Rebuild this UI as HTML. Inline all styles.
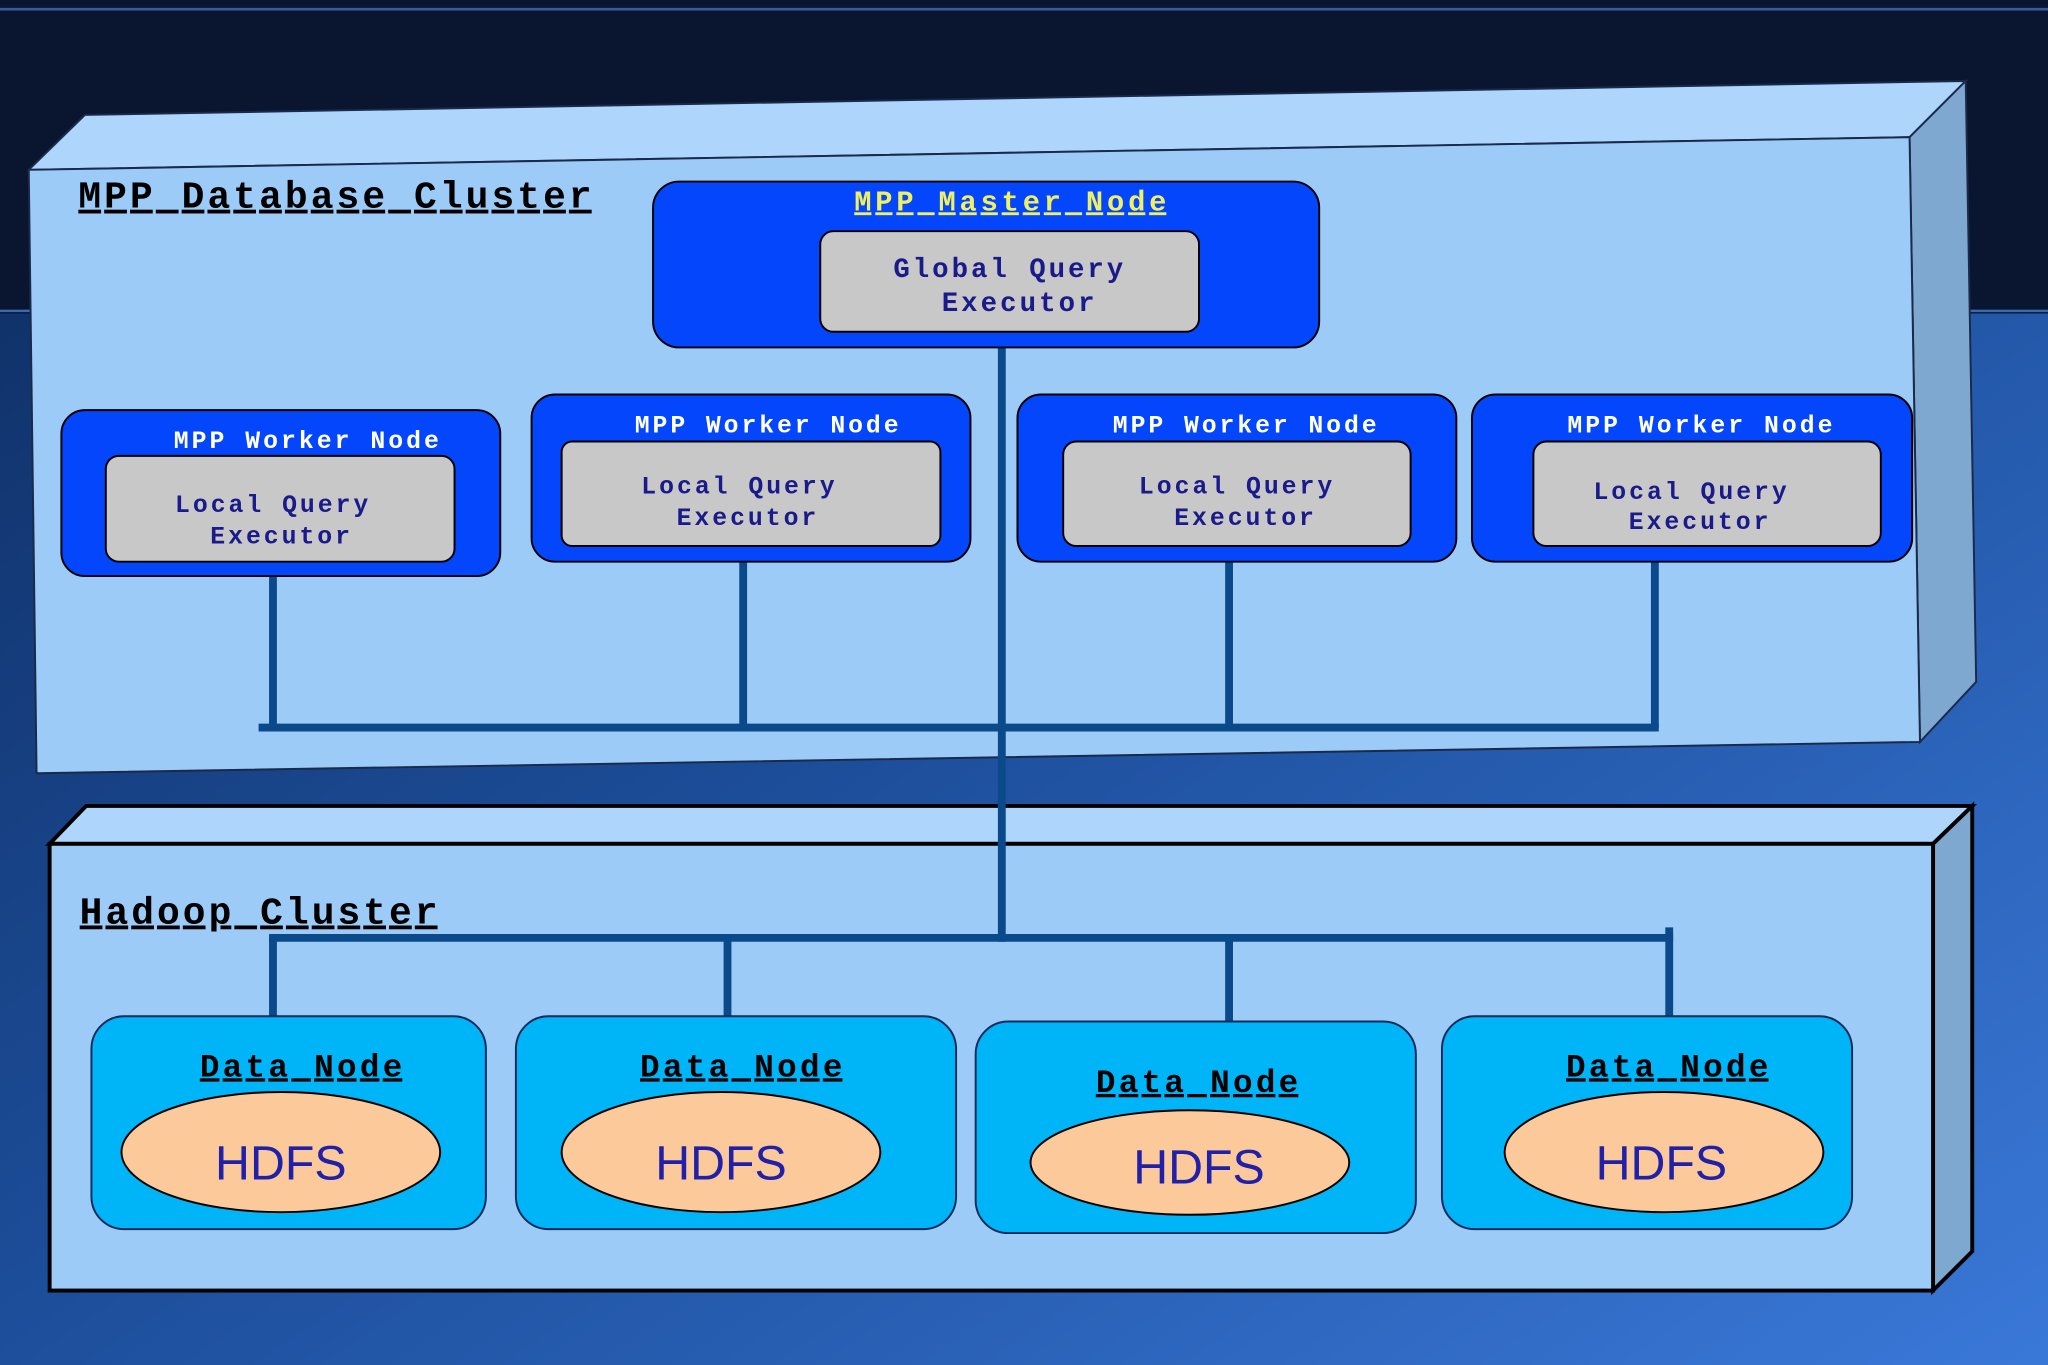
<!DOCTYPE html>
<html><head><meta charset="utf-8"><style>
html,body{margin:0;padding:0;width:2048px;height:1365px;overflow:hidden;background:#0a1630}
svg{display:block}
.m{font-family:"Liberation Mono",monospace;font-weight:bold}
</style></head><body>
<svg width="2048" height="1365" viewBox="0 0 1568 1045" preserveAspectRatio="none">
<defs>
<linearGradient id="bg" x1="0" y1="0" x2="1" y2="1">
<stop offset="0" stop-color="#0d2a5c"/><stop offset="0.5" stop-color="#1d4f9c"/><stop offset="1" stop-color="#3a78d8"/>
</linearGradient>
</defs>
<rect width="1568" height="1045" fill="url(#bg)"/>
<rect width="1568" height="240" fill="#0a1630"/>
<line x1="0" y1="7" x2="1568" y2="7" stroke="#3a5a9a" stroke-width="2"/>
<line x1="0" y1="238" x2="1568" y2="238" stroke="#3a6ab0" stroke-width="2"/>
<polygon points="22,130 65,88 1505,62 1462,105" fill="#aed6fd" stroke="#1a2a4a" stroke-width="1.5"/>
<polygon points="1462,105 1505,62 1513,522 1470,568" fill="#7ea8d0" stroke="#1a2a4a" stroke-width="1.5"/>
<polygon points="22,130 1462,105 1470,568 28,592" fill="#9ccbf8" stroke="#1a2a4a" stroke-width="1.5"/>
<text x="60" y="159" class="m" font-size="29" fill="#000" text-decoration="underline" textLength="393" lengthAdjust="spacing">MPP Database Cluster</text>
<polygon points="38,646 66,617 1510,617 1480,646" fill="#aed6fd" stroke="#000" stroke-width="3"/>
<polygon points="1480,646 1510,617 1510,958 1480,988" fill="#7ea8d0" stroke="#000" stroke-width="3"/>
<rect x="38" y="646" width="1442" height="342" fill="#9ccbf8" stroke="#000" stroke-width="3"/>
<text x="61" y="707" class="m" font-size="29" fill="#000" text-decoration="underline" textLength="274" lengthAdjust="spacing">Hadoop Cluster</text>
<g stroke="#0a4a8a" stroke-width="6" fill="none">
<line x1="767" y1="266" x2="767" y2="721"/>
<line x1="198" y1="557" x2="1270" y2="557"/>
<line x1="209" y1="441" x2="209" y2="557"/>
<line x1="569" y1="430" x2="569" y2="557"/>
<line x1="941" y1="430" x2="941" y2="557"/>
<line x1="1267" y1="430" x2="1267" y2="557"/>
<line x1="206" y1="718" x2="1281" y2="718"/>
<line x1="209" y1="718" x2="209" y2="778"/>
<line x1="557" y1="718" x2="557" y2="778"/>
<line x1="941" y1="718" x2="941" y2="790"/>
<line x1="1278" y1="710" x2="1278" y2="778"/>
</g>
<rect x="500" y="139" width="510" height="127" rx="20" fill="#0446fb" stroke="#000" stroke-width="1.5"/>
<text x="654" y="161" class="m" font-size="22" fill="#f0f060" text-decoration="underline" textLength="239" lengthAdjust="spacing">MPP Master Node</text>
<rect x="628" y="177" width="290" height="77" rx="10" fill="#c8c8c8" stroke="#000" stroke-width="1.5"/>
<text x="684" y="212" class="m" font-size="21" fill="#1a1a8a" textLength="176" lengthAdjust="spacing">Global Query</text>
<text x="721" y="238" class="m" font-size="21" fill="#1a1a8a" textLength="117" lengthAdjust="spacing">Executor</text>
<g>
<rect x="47" y="314" width="336" height="127" rx="18" fill="#0446fb" stroke="#000" stroke-width="1.5"/>
<text x="133" y="343" class="m" font-size="19" fill="#fff" textLength="203" lengthAdjust="spacing">MPP Worker Node</text>
<rect x="81" y="349" width="267" height="81" rx="10" fill="#c8c8c8" stroke="#000" stroke-width="1.5"/>
<text x="134" y="392" class="m" font-size="19" fill="#1a1a8a" textLength="148" lengthAdjust="spacing">Local Query</text>
<text x="161" y="416" class="m" font-size="19" fill="#1a1a8a" textLength="107" lengthAdjust="spacing">Executor</text>

<rect x="407" y="302" width="336" height="128" rx="18" fill="#0446fb" stroke="#000" stroke-width="1.5"/>
<text x="486" y="331" class="m" font-size="19" fill="#fff" textLength="202" lengthAdjust="spacing">MPP Worker Node</text>
<rect x="430" y="338" width="290" height="80" rx="8" fill="#c8c8c8" stroke="#000" stroke-width="1.5"/>
<text x="491" y="378" class="m" font-size="19" fill="#1a1a8a" textLength="148" lengthAdjust="spacing">Local Query</text>
<text x="518" y="402" class="m" font-size="19" fill="#1a1a8a" textLength="107" lengthAdjust="spacing">Executor</text>

<rect x="779" y="302" width="336" height="128" rx="18" fill="#0446fb" stroke="#000" stroke-width="1.5"/>
<text x="852" y="331" class="m" font-size="19" fill="#fff" textLength="202" lengthAdjust="spacing">MPP Worker Node</text>
<rect x="814" y="338" width="266" height="80" rx="10" fill="#c8c8c8" stroke="#000" stroke-width="1.5"/>
<text x="872" y="378" class="m" font-size="19" fill="#1a1a8a" textLength="148" lengthAdjust="spacing">Local Query</text>
<text x="899" y="402" class="m" font-size="19" fill="#1a1a8a" textLength="107" lengthAdjust="spacing">Executor</text>

<rect x="1127" y="302" width="337" height="128" rx="18" fill="#0446fb" stroke="#000" stroke-width="1.5"/>
<text x="1200" y="331" class="m" font-size="19" fill="#fff" textLength="203" lengthAdjust="spacing">MPP Worker Node</text>
<rect x="1174" y="338" width="266" height="80" rx="10" fill="#c8c8c8" stroke="#000" stroke-width="1.5"/>
<text x="1220" y="382" class="m" font-size="19" fill="#1a1a8a" textLength="148" lengthAdjust="spacing">Local Query</text>
<text x="1247" y="405" class="m" font-size="19" fill="#1a1a8a" textLength="107" lengthAdjust="spacing">Executor</text>
</g>
<g font-family="Liberation Sans, sans-serif">
<rect x="70" y="778" width="302" height="163" rx="25" fill="#00b4f8" stroke="#0a2a5a" stroke-width="1.5"/>
<text x="153" y="824" class="m" font-size="25" fill="#000" text-decoration="underline" textLength="155" lengthAdjust="spacing">Data Node</text>
<ellipse cx="215" cy="882" rx="122" ry="46" fill="#fbc99a" stroke="#000" stroke-width="1.5"/>
<text x="215" y="903" font-size="37" fill="#2020a8" text-anchor="middle">HDFS</text>

<rect x="395" y="778" width="337" height="163" rx="25" fill="#00b4f8" stroke="#0a2a5a" stroke-width="1.5"/>
<text x="490" y="824" class="m" font-size="25" fill="#000" text-decoration="underline" textLength="155" lengthAdjust="spacing">Data Node</text>
<ellipse cx="552" cy="882" rx="122" ry="46" fill="#fbc99a" stroke="#000" stroke-width="1.5"/>
<text x="552" y="903" font-size="37" fill="#2020a8" text-anchor="middle">HDFS</text>

<rect x="747" y="782" width="337" height="162" rx="25" fill="#00b4f8" stroke="#0a2a5a" stroke-width="1.5"/>
<text x="839" y="836" class="m" font-size="25" fill="#000" text-decoration="underline" textLength="155" lengthAdjust="spacing">Data Node</text>
<ellipse cx="911" cy="890" rx="122" ry="40" fill="#fbc99a" stroke="#000" stroke-width="1.5"/>
<text x="918" y="906" font-size="37" fill="#2020a8" text-anchor="middle">HDFS</text>

<rect x="1104" y="778" width="314" height="163" rx="25" fill="#00b4f8" stroke="#0a2a5a" stroke-width="1.5"/>
<text x="1199" y="824" class="m" font-size="25" fill="#000" text-decoration="underline" textLength="155" lengthAdjust="spacing">Data Node</text>
<ellipse cx="1274" cy="882" rx="122" ry="46" fill="#fbc99a" stroke="#000" stroke-width="1.5"/>
<text x="1272" y="903" font-size="37" fill="#2020a8" text-anchor="middle">HDFS</text>
</g>
</svg>
</body></html>
